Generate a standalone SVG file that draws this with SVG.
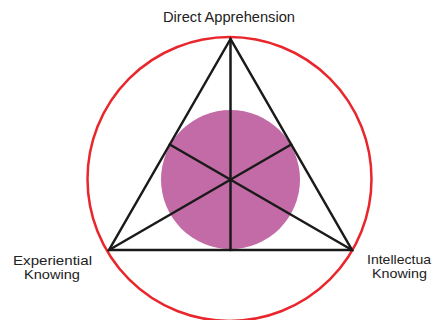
<svg xmlns="http://www.w3.org/2000/svg" width="432" height="320" viewBox="0 0 432 320">
<style>
.lbl{font-family:"Liberation Sans",Arial,sans-serif;font-size:12.2px;fill:#222;text-anchor:middle}
.ln{stroke:#1a1a1a;stroke-width:2.5;fill:none;stroke-linecap:round}
</style>
<rect width="432" height="320" fill="#fff"/>
<g id="outer-circle"><circle cx="229.5" cy="179" r="142" fill="none" stroke="#e8262c" stroke-width="2.5"/></g>
<g id="core"><circle cx="230.5" cy="179.5" r="69.5" fill="#c36ba6"/></g>
<g id="connectors">
<polygon class="ln" points="230.5,39 109,250 352,250" stroke-linejoin="miter"/>
<line class="ln" x1="230.5" y1="39" x2="230.5" y2="250"/>
<line class="ln" x1="109" y1="250" x2="291.2" y2="144.5"/>
<line class="ln" x1="352" y1="250" x2="169.8" y2="144.5"/>
</g>
<g id="direct-apprehension"><text class="lbl" x="229" y="22" style="font-size:14px" textLength="132" lengthAdjust="spacingAndGlyphs">Direct Apprehension</text></g>
<g id="experiential-knowing"><text class="lbl" x="52.5" y="264.5" textLength="79" lengthAdjust="spacingAndGlyphs">Experiential</text><text class="lbl" x="52" y="278.5" textLength="56" lengthAdjust="spacingAndGlyphs">Knowing</text></g>
<g id="intellectual-knowing"><text class="lbl" x="367" y="264" style="text-anchor:start" textLength="64" lengthAdjust="spacingAndGlyphs">Intellectua</text><text class="lbl" x="399.5" y="278" textLength="55" lengthAdjust="spacingAndGlyphs">Knowing</text></g>
</svg>
